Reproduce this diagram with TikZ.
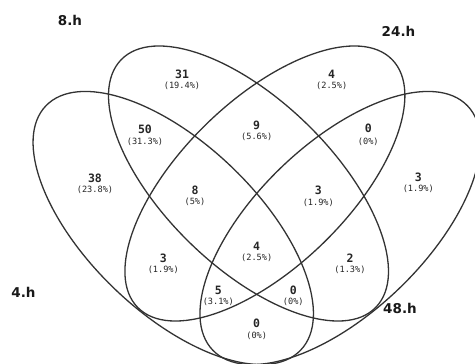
\documentclass[tikz,border=0pt]{standalone}
\usepackage{fontspec}
\newfontfamily\numfont{DejaVu Sans Mono}
\newfontfamily\catfont{DejaVu Sans}
\tikzset{
  venn/.style={draw=black!80, line width=1.3pt},
  cnt/.style={font=\numfont\bfseries\fontsize{11.5}{12}\selectfont, text=black!85, inner sep=0pt},
  pct/.style={font=\numfont\fontsize{8.6}{9}\selectfont, text=black!85, inner sep=0pt},
  cat/.style={font=\catfont\bfseries\fontsize{13.5}{14}\selectfont, text=black!90, inner sep=0pt}
}
\begin{document}
\begin{tikzpicture}[x=1pt,y=1pt]
\useasboundingbox (0,0) rectangle (475,-364);
\fill[white] (0,0) rectangle (475,-364);
% ellipses
\draw[venn, rotate around={-43.8:(173.25,-228)}] (173.25,-228) ellipse [x radius=176.5pt, y radius=84.5pt];
\draw[venn, rotate around={-44.2:(248.5,-183.5)}] (248.5,-183.5) ellipse [x radius=177.6pt, y radius=83.4pt];
\draw[venn, rotate around={44.2:(264.9,-183.5)}] (264.9,-183.5) ellipse [x radius=177.6pt, y radius=83.4pt];
\draw[venn, rotate around={43.8:(340.15,-228)}] (340.15,-228) ellipse [x radius=176.5pt, y radius=84.5pt];
% category labels
\node[cat] (l8) at (70,-20) {8.h};
\node[cat] (l24) at (398.5,-31) {24.h};
\node[cat] (l4) at (23.5,-292) {4.h};
\node[cat] (l48) at (400,-308) {48.h};
% region counts
\node[cnt] (n31) at (182,-74) {31};   \node[pct] (p31) at (182,-86) {(19.4\%)};
\node[cnt] (n4t) at (331.7,-74) {4};  \node[pct] (p4t) at (331.7,-86) {(2.5\%)};
\node[cnt] (n50) at (145,-129.5) {50}; \node[pct] (p50) at (145,-141.7) {(31.3\%)};
\node[cnt] (n9) at (256.7,-125) {9};  \node[pct] (p9) at (256.7,-137.3) {(5.6\%)};
\node[cnt] (n0r) at (368.3,-128.3) {0}; \node[pct] (p0r) at (368.3,-141.7) {(0\%)};
\node[cnt] (n38) at (95,-178) {38};   \node[pct] (p38) at (95,-190) {(23.8\%)};
\node[cnt] (n3r) at (418.3,-177.3) {3}; \node[pct] (p3r) at (418.3,-189) {(1.9\%)};
\node[cnt] (n8) at (195,-190) {8};    \node[pct] (p8) at (195,-201.7) {(5\%)};
\node[cnt] (n3m) at (318.3,-190.7) {3}; \node[pct] (p3m) at (318.3,-202.7) {(1.9\%)};
\node[cnt] (n4c) at (256.7,-246) {4}; \node[pct] (p4c) at (256.7,-257.7) {(2.5\%)};
\node[cnt] (n3l) at (163.3,-258.3) {3}; \node[pct] (p3l) at (163.3,-270) {(1.9\%)};
\node[cnt] (n2) at (350,-258.3) {2};  \node[pct] (p2) at (350,-270) {(1.3\%)};
\node[cnt] (n5) at (218.3,-290) {5};  \node[pct] (p5) at (218.3,-301.7) {(3.1\%)};
\node[cnt] (n0m) at (293.3,-290) {0}; \node[pct] (p0m) at (293.3,-301.7) {(0\%)};
\node[cnt] (n0b) at (256.7,-323.3) {0}; \node[pct] (p0b) at (256.7,-336) {(0\%)};
\end{tikzpicture}
\end{document}
